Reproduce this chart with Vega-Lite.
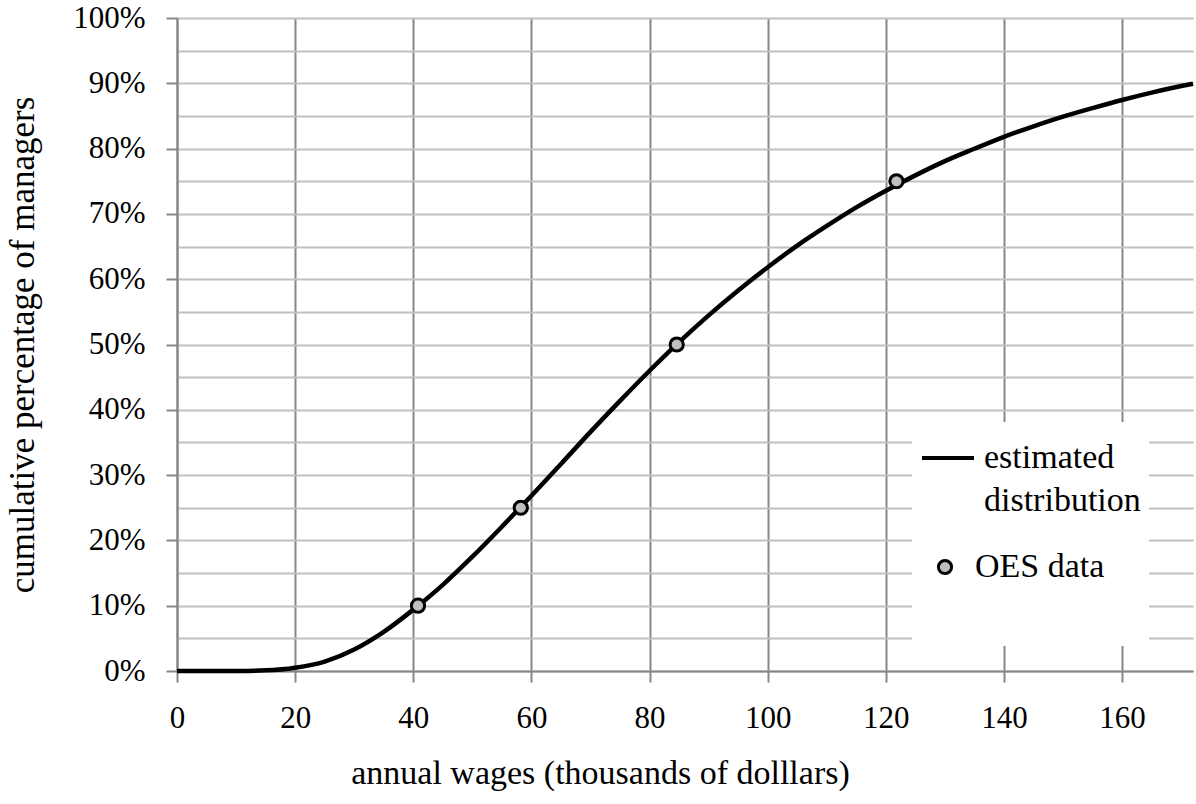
{
  "$schema": "https://vega.github.io/schema/vega-lite/v6.json",
  "width": 1016,
  "height": 653,
  "autosize": {"type": "none"},
  "padding": {"left": 177, "top": 18, "right": 3, "bottom": 133},
  "background": "white",
  "config": {
    "view": {"stroke": null},
    "font": "Liberation Serif",
    "style": {"guide-label": {"lineHeight": 43}}
  },
  "datasets": {
    "curve": [
      {"wage": 0, "pct": 0, "series": "estimated distribution"},
      {"wage": 5, "pct": 0, "series": "estimated distribution"},
      {"wage": 10, "pct": 0.0001, "series": "estimated distribution"},
      {"wage": 15, "pct": 0.001, "series": "estimated distribution"},
      {"wage": 20, "pct": 0.005, "series": "estimated distribution"},
      {"wage": 25, "pct": 0.0145, "series": "estimated distribution"},
      {"wage": 30, "pct": 0.033, "series": "estimated distribution"},
      {"wage": 35, "pct": 0.06, "series": "estimated distribution"},
      {"wage": 40, "pct": 0.094, "series": "estimated distribution"},
      {"wage": 45, "pct": 0.132, "series": "estimated distribution"},
      {"wage": 50, "pct": 0.175, "series": "estimated distribution"},
      {"wage": 55, "pct": 0.221, "series": "estimated distribution"},
      {"wage": 60, "pct": 0.2685, "series": "estimated distribution"},
      {"wage": 65, "pct": 0.317, "series": "estimated distribution"},
      {"wage": 70, "pct": 0.3662, "series": "estimated distribution"},
      {"wage": 75, "pct": 0.4137, "series": "estimated distribution"},
      {"wage": 80, "pct": 0.4598, "series": "estimated distribution"},
      {"wage": 85, "pct": 0.5036, "series": "estimated distribution"},
      {"wage": 90, "pct": 0.5446, "series": "estimated distribution"},
      {"wage": 95, "pct": 0.5828, "series": "estimated distribution"},
      {"wage": 100, "pct": 0.6183, "series": "estimated distribution"},
      {"wage": 105, "pct": 0.6514, "series": "estimated distribution"},
      {"wage": 110, "pct": 0.6815, "series": "estimated distribution"},
      {"wage": 115, "pct": 0.7099, "series": "estimated distribution"},
      {"wage": 120, "pct": 0.7354, "series": "estimated distribution"},
      {"wage": 125, "pct": 0.759, "series": "estimated distribution"},
      {"wage": 130, "pct": 0.7808, "series": "estimated distribution"},
      {"wage": 135, "pct": 0.7998, "series": "estimated distribution"},
      {"wage": 140, "pct": 0.8181, "series": "estimated distribution"},
      {"wage": 145, "pct": 0.8342, "series": "estimated distribution"},
      {"wage": 150, "pct": 0.849, "series": "estimated distribution"},
      {"wage": 155, "pct": 0.8621, "series": "estimated distribution"},
      {"wage": 160, "pct": 0.8745, "series": "estimated distribution"},
      {"wage": 165, "pct": 0.8857, "series": "estimated distribution"},
      {"wage": 170, "pct": 0.8958, "series": "estimated distribution"},
      {"wage": 172, "pct": 0.8993, "series": "estimated distribution"}
    ],
    "oes": [
      {"wage": 40.8, "pct": 0.10, "series": "OES data"},
      {"wage": 58.2, "pct": 0.25, "series": "OES data"},
      {"wage": 84.6, "pct": 0.50, "series": "OES data"},
      {"wage": 121.8, "pct": 0.75, "series": "OES data"}
    ]
  },
  "encoding": {
    "x": {
      "field": "wage", "type": "quantitative",
      "scale": {"domain": [0, 172], "nice": false, "zero": false},
      "axis": {
        "title": "annual wages (thousands of dolllars)",
        "titleFont": "Liberation Serif", "titleFontSize": 34, "titleFontWeight": "normal", "titleColor": "black",
        "titleX": 423, "titleY": 102, "titleBaseline": "middle", "titleAlign": "center",
        "values": [0, 20, 40, 60, 80, 100, 120, 140, 160],
        "labelFont": "Liberation Serif", "labelFontSize": 31, "labelColor": "black",
        "labelBaseline": "middle", "labelPadding": 36, "labelFlush": false,
        "domainColor": "#878787", "domainWidth": 2,
        "tickColor": "#878787", "tickWidth": 2, "tickSize": 11,
        "grid": true, "gridColor": "#878787", "gridWidth": 2
      }
    },
    "y": {
      "field": "pct", "type": "quantitative",
      "scale": {"domain": [0, 1], "nice": false},
      "axis": {
        "title": "cumulative percentage of managers",
        "titleFont": "Liberation Serif", "titleFontSize": 35, "titleFontWeight": "normal", "titleColor": "black",
        "titleX": -155, "titleY": 326.5, "titleBaseline": "middle", "titleAlign": "center", "titleAngle": 270,
        "values": [0, 0.05, 0.1, 0.15, 0.2, 0.25, 0.3, 0.35, 0.4, 0.45, 0.5, 0.55, 0.6, 0.65, 0.7, 0.75, 0.8, 0.85, 0.9, 0.95, 1.0],
        "format": ".0%",
        "labelExpr": "round(datum.value*100) % 10 == 0 ? datum.label : ''",
        "labelFont": "Liberation Serif", "labelFontSize": 31, "labelColor": "black",
        "labelPadding": 21, "labelFlush": false,
        "domainColor": "#878787", "domainWidth": 2,
        "tickColor": "#878787", "tickWidth": 2, "tickSize": 11,
        "tickOpacity": {"condition": {"test": "round(datum.value*100) % 10 == 0", "value": 1}, "value": 0},
        "grid": true, "gridColor": "#c0c0c0", "gridWidth": 2
      }
    }
  },
  "layer": [
    {
      "data": {"name": "curve"},
      "mark": {"type": "line", "interpolate": "monotone", "strokeWidth": 4.5, "opacity": 1},
      "encoding": {
        "color": {
          "field": "series", "type": "nominal",
          "scale": {"domain": ["estimated distribution"], "range": ["black"]},
          "legend": {
            "title": " ", "titleOrient": "bottom", "titleFontSize": 10, "titlePadding": 110,
            "orient": "none", "legendX": 735, "legendY": 404, "zindex": 1,
            "fillColor": "white", "padding": 8,
            "labelFont": "Liberation Serif", "labelFontSize": 34, "labelColor": "black", "labelLimit": 400, "labelOffset": 8,
            "symbolType": "stroke", "symbolSize": 2704, "symbolStrokeWidth": 4, "symbolStrokeColor": "black",
            "labelExpr": "datum.label == 'estimated distribution' ? ['estimated', 'distribution'] : datum.label"
          }
        }
      }
    },
    {
      "data": {"name": "oes"},
      "mark": {"type": "point", "filled": false, "fill": "#bfbfbf", "size": 175, "strokeWidth": 3, "opacity": 1},
      "encoding": {
        "shape": {
          "field": "series", "type": "nominal",
          "scale": {"domain": ["OES data"], "range": ["circle"]},
          "legend": {
            "title": null,
            "orient": "none", "legendX": 747, "legendY": 528, "zindex": 2,
            "padding": 4,
            "labelFont": "Liberation Serif", "labelFontSize": 34, "labelColor": "black", "labelLimit": 400, "labelOffset": 13,
            "symbolSize": 175, "symbolStrokeWidth": 3, "symbolFillColor": "#bfbfbf", "symbolOpacity": 1
          }
        },
        "stroke": {
          "field": "series", "type": "nominal",
          "scale": {"domain": ["OES data"], "range": ["black"]},
          "legend": {
            "title": null,
            "orient": "none", "legendX": 747, "legendY": 528, "zindex": 2,
            "padding": 4,
            "labelFont": "Liberation Serif", "labelFontSize": 34, "labelColor": "black", "labelLimit": 400, "labelOffset": 13,
            "symbolSize": 175, "symbolStrokeWidth": 3, "symbolFillColor": "#bfbfbf", "symbolOpacity": 1
          }
        }
      }
    }
  ]
}
